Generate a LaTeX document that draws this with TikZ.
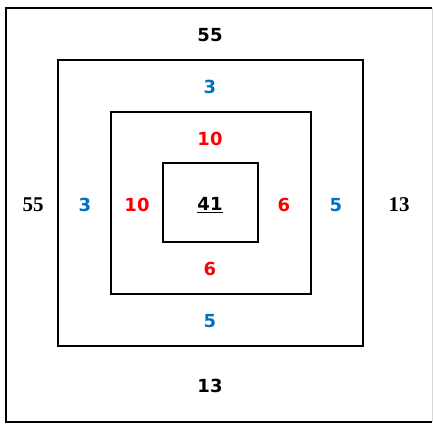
\documentclass[tikz,border=0pt]{standalone}
\usepackage{fontspec}
\setmainfont{DejaVu Sans}
\newfontfamily\serifnum{Liberation Serif}
\usepackage{xcolor}
\usepackage{tikz}
\definecolor{myblue}{RGB}{0,112,192}
\definecolor{myred}{RGB}{255,0,0}
\definecolor{myedge}{RGB}{215,215,215}
\tikzset{
  frame/.style={draw=black, line width=2pt},
  num/.style={font=\fontsize{18}{20}\selectfont\bfseries, inner sep=0pt},
  bluenum/.style={num, text=myblue},
  rednum/.style={num, text=myred},
  sidenum/.style={font=\fontsize{21}{23}\selectfont\serifnum\bfseries, inner sep=0pt}
}
\begin{document}
\begin{tikzpicture}[x=1pt,y=-1pt]
  \useasboundingbox (0,0) rectangle (433,425);
  % Outer frame (right side is light)
  \draw[frame] (432,8) -- (6,8) -- (6,422) -- (432,422);
  \draw[myedge, line width=1pt] (432,8) -- (432,422);
  % Inner squares
  \draw[frame] (58,60) rectangle (363,346);
  \draw[frame] (111,112) rectangle (311,294);
  \draw[frame] (163,163) rectangle (258,242);
  % Numbers
  \node[num] (top55) at (210,35) {55};
  \node[bluenum] (top3) at (210,87) {3};
  \node[rednum] (top10) at (210,139) {10};
  \node[num] (mid41) at (210,205) {\underline{41}};
  \node[rednum] (bot6) at (210,269) {6};
  \node[bluenum] (bot5) at (210,321) {5};
  \node[num] (bot13) at (210,386) {13};
  \node[sidenum] (left55) at (33,205) {55};
  \node[bluenum] (left3) at (85,205) {3};
  \node[rednum] (left10) at (137,205) {10};
  \node[rednum] (right6) at (284,205) {6};
  \node[bluenum] (right5) at (336,205) {5};
  \node[sidenum] (right13) at (399,205) {13};
\end{tikzpicture}
\end{document}
